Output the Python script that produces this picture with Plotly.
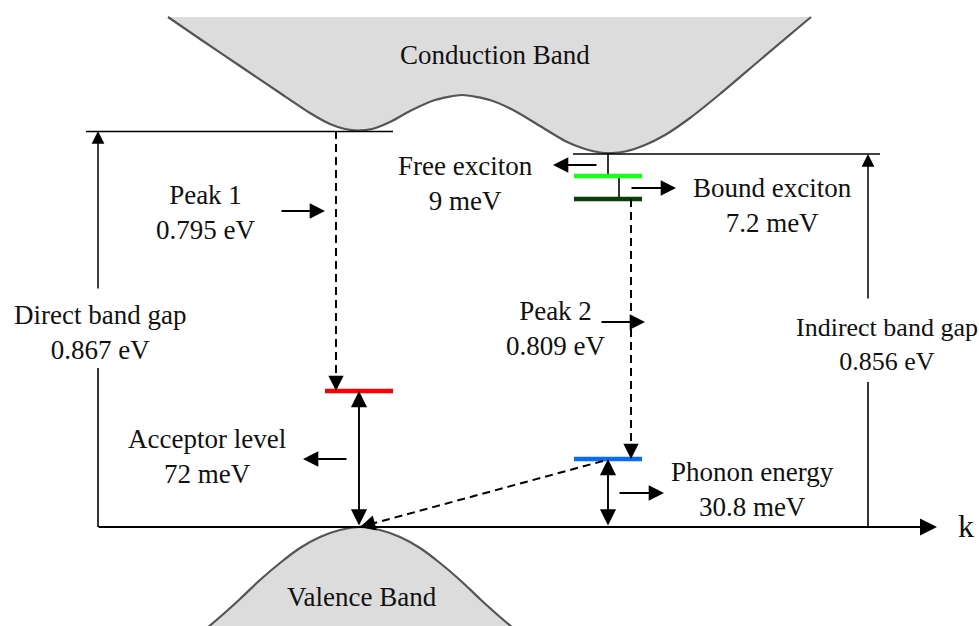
import plotly.graph_objects as go

W, H = 979, 626

# ---- band outlines (k position, energy position in diagram units) ----
cb_k = [168, 200, 240, 280, 310, 330, 345, 358, 372, 390, 410, 435, 462, 490, 515, 540,
        565, 585, 600, 612, 625, 645, 665, 690, 720, 760, 811]
cb_E = [17, 39, 66, 93, 113, 124, 129, 130.5, 129, 122, 111, 100, 95, 100, 111, 126,
        141, 149, 152.5, 153, 151.5, 145, 135, 118, 94, 60, 17]

vb_k = [195, 220, 240, 260, 280, 300, 320, 340, 360, 380, 400, 420, 440, 460, 480, 500, 525]
vb_E = [638, 617, 599, 580, 563, 548, 537, 530, 527, 530, 537, 548, 563, 580, 599, 617, 638]

# ---- energy levels ----
level_names = ["Acceptor", "Free exciton", "Bound exciton", "Phonon"]
level_k0 = [325, 574, 574, 574]
level_k1 = [393, 642, 642, 642]
level_E = [391, 176, 199, 459]
level_colors = ["#ff0000", "#1aff1a", "#073f07", "#0a6cf5"]

# ---- labels ----
label_text = ["Conduction Band", "Valence Band", "Peak 1<br>0.795 eV", "Free exciton<br>9 meV",
              "Bound exciton<br>7.2 meV", "Direct band gap<br>0.867 eV", "Peak 2<br>0.809 eV",
              "Indirect band gap<br>0.856 eV", "Acceptor level<br>72 meV", "Phonon energy<br>30.8 meV"]
label_k = [495, 362, 205, 465, 772, 100, 555, 887, 207, 752]
label_E = [55, 597, 212, 183, 205, 332, 328, 344, 456, 489]
label_size = [27, 27, 27, 27, 27, 27, 27, 26, 27, 27]

FONT = "Liberation Serif, Times New Roman, serif"

fig = go.Figure()

# conduction band
fig.add_trace(go.Scatter(x=cb_k, y=cb_E, mode="lines", fill="toself", fillcolor="#dcdcdc",
                         line=dict(color="#555555", width=2.2, shape="spline", smoothing=0.6),
                         hoverinfo="skip", showlegend=False))
# valence band
fig.add_trace(go.Scatter(x=vb_k, y=vb_E, mode="lines", fill="toself", fillcolor="#dcdcdc",
                         line=dict(color="#555555", width=2.2, shape="spline", smoothing=0.6),
                         hoverinfo="skip", showlegend=False))

def line(x, y, w=1.6, color="black", dash=None):
    fig.add_trace(go.Scatter(x=x, y=y, mode="lines",
                             line=dict(color=color, width=w, dash=dash),
                             hoverinfo="skip", showlegend=False))

# reference horizontal lines at band minima
line([86, 393], [131.5, 131.5])
line([573, 880], [154, 154])
# lower parts of the gap lines
line([98, 98], [368, 527])
line([868, 868], [382, 527])
# exciton connector lines
line([608, 608], [154, 176])
line([619, 619], [176, 199])

# energy levels
for k0, k1, e, c in zip(level_k0, level_k1, level_E, level_colors):
    line([k0, k1], [e, e], w=4.5, color=c)

# dashed transitions
dashed = [((336, 131), (336, 391)), ((631, 199), (631, 459)), ((603, 461), (360, 527))]
for (x0, y0), (x1, y1) in dashed:
    line([x0, x1], [y0, y1], w=2, dash="8px,5px")

AS = 1.7

def arrow(tail, tip, w=1.8, both=False):
    d = dict(x=tip[0], y=tip[1], ax=tail[0], ay=tail[1], xref="x", yref="y",
             axref="x", ayref="y", text="", showarrow=True, arrowhead=2,
             arrowsize=AS, arrowwidth=w, arrowcolor="black", standoff=0, startstandoff=0)
    if both:
        d.update(arrowside="end+start", startarrowhead=2, startarrowsize=AS)
    fig.add_annotation(**d)

# arrowheads for dashed transitions
for (x0, y0), (x1, y1) in dashed:
    dx, dy = x1 - x0, y1 - y0
    n = (dx * dx + dy * dy) ** 0.5
    arrow((x1 - 16 * dx / n, y1 - 16 * dy / n), (x1, y1), w=1.8)

# solid arrows
arrow((98, 290), (98, 131), w=1.5)
arrow((868, 300), (868, 154), w=1.5)
arrow((97, 527), (937, 527), w=2)
arrow((280, 211), (325, 211))
arrow((598, 165), (553, 165))
arrow((630, 188), (676, 188))
arrow((600, 322), (645, 322))
arrow((348, 459), (303, 459))
arrow((618, 493), (664, 493))
arrow((359, 527), (359, 391), w=1.9, both=True)
arrow((608, 527), (608, 459), w=1.9, both=True)

for t, k, e, s in zip(label_text, label_k, label_E, label_size):
    fig.add_annotation(x=k, y=e, text=t, showarrow=False, xref="x", yref="y",
                       font=dict(family=FONT, size=s, color="#111111"), align="center")
fig.add_annotation(x=966, y=526, text="k", showarrow=False,
                   font=dict(family=FONT, size=32, color="#111111"))

fig.update_layout(width=W, height=H, autosize=False, margin=dict(l=0, r=0, t=0, b=0),
                  paper_bgcolor="white", plot_bgcolor="white",
                  xaxis=dict(range=[0, W], visible=False, fixedrange=True),
                  yaxis=dict(range=[H, 0], visible=False, fixedrange=True))

fig.write_html("out.html", config={"displayModeBar": False},
               post_script="document.body.style.margin='0';document.body.style.overflow='hidden';")
